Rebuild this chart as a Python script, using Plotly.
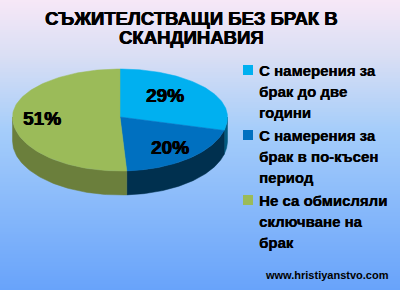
import numpy as np
import plotly.graph_objects as go

# ---------------- data ----------------
categories = [
    "С намерения за брак до две години",
    "С намерения за брак в по-късен период",
    "Не са обмисляли сключване на брак",
]
legend_lines = [
    ["С намерения за", "брак до две", "години"],
    ["С намерения за", "брак в по-късен", "период"],
    ["Не са обмисляли", "сключване на", "брак"],
]
values = [29, 20, 51]
top_colors = ["#00B0F0", "#0070C0", "#9BBB59"]
side_colors = ["#005A80", "#00304F", "#6B7F3C"]
title_lines = ["СЪЖИТЕЛСТВАЩИ БЕЗ БРАК В", "СКАНДИНАВИЯ"]
source_text = "www.hristiyanstvo.com"

# ---------------- geometry / style ----------------
W, H = 400, 290
cx, cy = 120, 117
rx, ry_back, ry_front = 107.5, 48, 54
depth = 24
FONT = "Liberation Sans, Arial, sans-serif"
HEAVY = "0.5px 0 0 black, -0.3px 0 0 black"


def pt(t, dy=0.0):
    c = np.cos(t)
    r = np.where(c >= 0, ry_back, ry_front)
    return cx + rx * np.sin(t), cy - r * c + dy


fig = go.Figure()

# background gradient
stops = [(0.0, (247, 232, 247)), (0.2, (216, 222, 244)), (0.45, (165, 205, 250)), (1.0, (104, 163, 250))]


def grad(f):
    for (f0, c0), (f1, c1) in zip(stops[:-1], stops[1:]):
        if f0 <= f <= f1:
            u = (f - f0) / (f1 - f0)
            return tuple(int(round(a + (b - a) * u)) for a, b in zip(c0, c1))
    return stops[-1][1]


step = 2
for y0 in range(0, H, step):
    col = grad((y0 + step / 2) / H)
    fig.add_shape(type="rect", xref="x", yref="y", x0=0, x1=W, y0=y0, y1=y0 + step,
                  fillcolor="rgb(%d,%d,%d)" % col, line_width=0, layer="below")

total = sum(values)
fracs = np.cumsum([0] + values) / total
angles = fracs * 2 * np.pi

# side walls (visible front half: pi/2 .. 3pi/2)
for i in range(len(values)):
    a0, a1 = max(angles[i], np.pi / 2), min(angles[i + 1], 3 * np.pi / 2)
    if a1 <= a0:
        continue
    t = np.linspace(a0, a1, 80)
    xt, yt = pt(t)
    xb, yb = pt(t[::-1], depth)
    fig.add_trace(go.Scatter(x=np.concatenate([xt, xb, xt[:1]]), y=np.concatenate([yt, yb, yt[:1]]),
                             mode="lines", fill="toself", fillcolor=side_colors[i],
                             line=dict(width=0.5, color=side_colors[i]), hoverinfo="skip", showlegend=False))

# top faces
for i in range(len(values)):
    t = np.linspace(angles[i], angles[i + 1], 120)
    xs, ys = pt(t)
    fig.add_trace(go.Scatter(x=np.concatenate([[cx], xs, [cx]]), y=np.concatenate([[cy], ys, [cy]]),
                             mode="lines", fill="toself", fillcolor=top_colors[i],
                             line=dict(width=0.5, color=top_colors[i]), name=categories[i],
                             hoverinfo="name", showlegend=False))

# value labels
label_shift = [-17, 0, 0]
for i, v in enumerate(values):
    mid = (angles[i] + angles[i + 1]) / 2
    c = np.cos(mid)
    r = ry_back if c >= 0 else ry_front
    lx = cx + 0.73 * rx * np.sin(mid)
    ly = cy - 0.73 * r * c
    fig.add_annotation(x=lx, y=ly, text="<b>%d%%</b>" % v, showarrow=False, xshift=label_shift[i],
                       font=dict(family=FONT, size=19, color="black", shadow=HEAVY),
                       xanchor="center", yanchor="middle")

# title
for j, line in enumerate(title_lines):
    fig.add_annotation(x=191, y=18 + j * 19.5, text="<b>%s</b>" % line, showarrow=False,
                       font=dict(family=FONT, size=18.5, color="black", shadow=HEAVY),
                       xanchor="center", yanchor="middle")

# legend
for i, lines in enumerate(legend_lines):
    y_first = 70 + i * 65
    fig.add_shape(type="rect", xref="x", yref="y", x0=243, x1=253, y0=y_first - 5, y1=y_first + 5,
                  fillcolor=top_colors[i], line_width=0)
    for k, line in enumerate(lines):
        fig.add_annotation(x=257, y=y_first + k * 21, text="<b>%s</b>" % line, showarrow=False,
                           font=dict(family=FONT, size=15, color="black", shadow="0.3px 0 0 black"),
                           xanchor="left", yanchor="middle")

# source
fig.add_annotation(x=391, y=275, text="<b>%s</b>" % source_text, showarrow=False,
                   font=dict(family=FONT, size=11, color="black"), xanchor="right", yanchor="middle")

fig.update_layout(
    width=W, height=H, margin=dict(l=0, r=0, t=0, b=0),
    paper_bgcolor="rgb(104,163,250)", plot_bgcolor="rgba(0,0,0,0)",
    xaxis=dict(range=[0, W], visible=False, fixedrange=True),
    yaxis=dict(range=[H, 0], visible=False, fixedrange=True),
    showlegend=False,
)

fig.write_html("out.html")
